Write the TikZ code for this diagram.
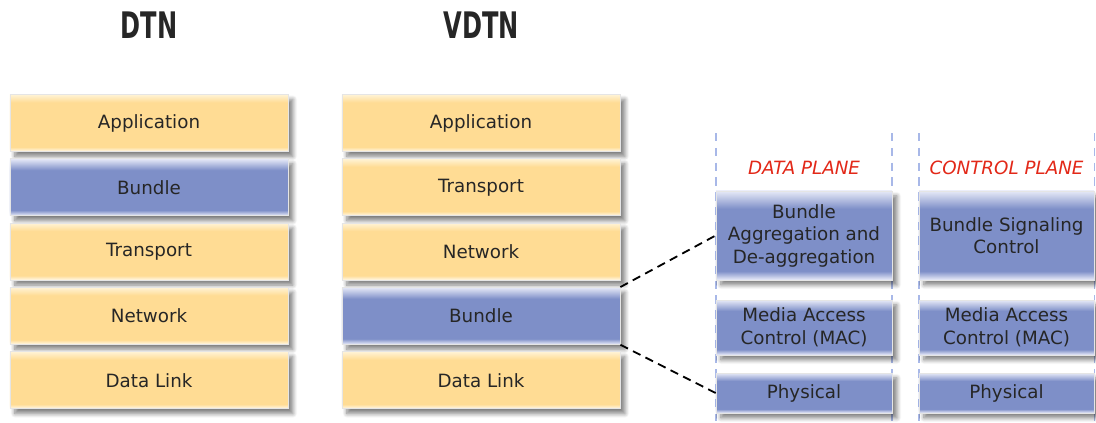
\documentclass[tikz,border=0pt]{standalone}
\usepackage{fontspec}
\setmainfont{DejaVu Sans}
\usetikzlibrary{shadows.blur}

\definecolor{ylwmain}{RGB}{255,220,148}
\definecolor{ylwtop}{RGB}{255,243,214}
\definecolor{ylwbot}{RGB}{255,249,236}
\definecolor{bluemain}{RGB}{126,143,200}
\definecolor{bluetop}{RGB}{230,233,247}
\definecolor{bluebot}{RGB}{236,238,250}
\definecolor{planered}{RGB}{226,40,24}
\definecolor{guideblue}{RGB}{168,184,232}
\definecolor{inkgray}{RGB}{38,38,38}

\pgfdeclareverticalshading{ylwlayer}{100bp}{color(0bp)=(ylwbot); color(25bp)=(ylwbot);
  color(29bp)=(ylwmain); color(68bp)=(ylwmain); color(75bp)=(ylwtop); color(100bp)=(ylwtop)}
\pgfdeclareverticalshading{bluelayer}{100bp}{color(0bp)=(bluebot); color(25bp)=(bluebot);
  color(30bp)=(bluemain); color(65bp)=(bluemain); color(75bp)=(bluetop); color(100bp)=(bluetop)}

\tikzset{
  layer/.style={shade, draw=black!10, line width=0.5pt, minimum width=6.95cm,
    minimum height=1.425cm, align=center, text=inkgray, font=\fontsize{13}{16}\selectfont,
    blur shadow={shadow xshift=3.5pt, shadow yshift=-3.5pt, shadow blur radius=3pt,
      shadow blur steps=8, shadow opacity=50}},
  ylw layer/.style={layer, shading=ylwlayer},
  blue layer/.style={layer, shading=bluelayer},
  plane layer/.style={blue layer, minimum width=4.4cm},
  stacktitle/.style={font=\fontsize{26}{30}\selectfont\bfseries, text=inkgray},
  planetitle/.style={font=\fontsize{13}{16}\selectfont\itshape, text=planered},
  guide/.style={guideblue, line width=1pt, dash pattern=on 6pt off 4.5pt}
}

\begin{document}
\begin{tikzpicture}[x=0.025cm, y=-0.025cm]
  \useasboundingbox (0,0) rectangle (1096,422);

  % stack titles
  \node[stacktitle] (dtntitle) at (149,25.5) {\scalebox{0.66}[1]{DTN}};
  \node[stacktitle] (vdtntitle) at (481,25.5) {\scalebox{0.66}[1]{VDTN}};

  % DTN stack
  \foreach \name/\txt/\kind [count=\i from 0] in
    {dapp/Application/ylw, dbun/Bundle/blue, dtra/Transport/ylw, dnet/Network/ylw, dlink/Data Link/ylw}
    \node[\kind\space layer] (\name) at (149,123+64.3*\i) {\txt};

  % VDTN stack
  \foreach \name/\txt/\kind [count=\i from 0] in
    {vapp/Application/ylw, vtra/Transport/ylw, vnet/Network/ylw, vbun/Bundle/blue, vlink/Data Link/ylw}
    \node[\kind\space layer] (\name) at (481,123+64.3*\i) {\txt};

  % plane guides
  \begin{scope}
    \draw[guide] (716,133) -- (716,421);
    \draw[guide] (892,133) -- (892,421);
    \draw[guide] (919,133) -- (919,421);
    \draw[guide] (1094.5,133) -- (1094.5,421);
  \end{scope}

  \node[planetitle] (dplane) at (804,168) {DATA PLANE};
  \node[planetitle] (cplane) at (1006.5,168) {CONTROL PLANE};

  % data plane
  \node[plane layer, minimum height=2.225cm] (agg) at (804,235.5) {Bundle\\Aggregation and\\De-aggregation};
  \node[plane layer, minimum height=1.375cm] (dmac) at (804,327.5) {Media Access\\Control (MAC)};
  \node[plane layer, minimum height=1cm] (dphy) at (804,393) {Physical};

  % control plane
  \node[plane layer, minimum width=4.375cm, minimum height=2.225cm] (sig) at (1006.5,235.5) {Bundle Signaling\\Control};
  \node[plane layer, minimum width=4.375cm, minimum height=1.375cm] (cmac) at (1006.5,327.5) {Media Access\\Control (MAC)};
  \node[plane layer, minimum width=4.375cm, minimum height=1cm] (cphy) at (1006.5,393) {Physical};

  \begin{scope}[line width=1.3pt, dash pattern=on 6pt off 4pt]
    \draw (vbun.north east) -- (agg.west);
    \draw (vbun.south east) -- (dphy.west);
  \end{scope}
\end{tikzpicture}
\end{document}
